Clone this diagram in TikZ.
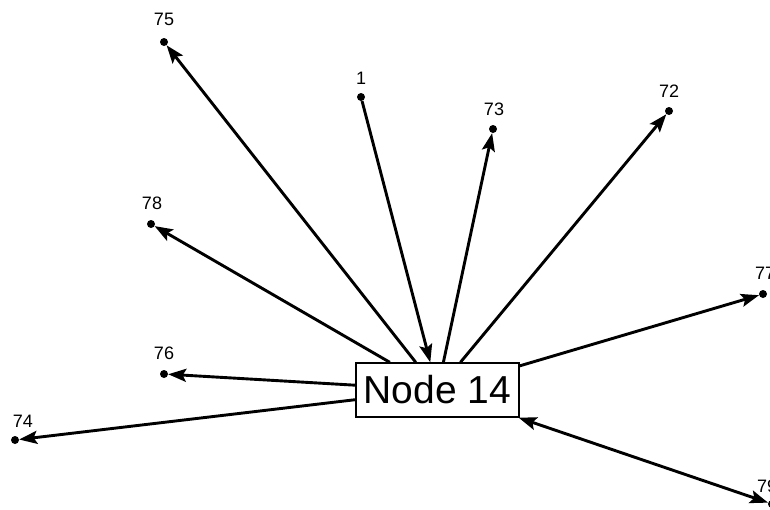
\documentclass[tikz,border=0pt]{standalone}
\usepackage{fontspec}
\setmainfont{Liberation Sans}
\usetikzlibrary{arrows.meta}
\begin{document}
\begin{tikzpicture}[x=1pt,y=-1pt,
  hub/.style={draw,line width=1.4pt,fill=white,minimum width=163pt,minimum height=54pt,
    inner sep=0pt,font=\fontsize{39}{39}\selectfont},
  vert/.style={circle,fill=black,inner sep=0pt,minimum size=8pt},
  tag/.style={inner sep=0pt,font=\fontsize{18}{18}\selectfont},
  tip/.style={Stealth[length=18pt,width=13pt,inset=3.5pt]},
  link/.style={line width=2.9pt,-{Stealth[length=18pt,width=13pt,inset=3.5pt]}},
  twoway/.style={line width=2.9pt,{Stealth[length=18pt,width=13pt,inset=3.5pt]}-{Stealth[length=18pt,width=13pt,inset=3.5pt]}}]
\clip (0,0) rectangle (770,509);
\fill[white] (0,0) rectangle (770,509);

% outer vertices
\node[vert] (v75) at (164,42) {};
\node[vert] (v1)  at (361,97) {};
\node[vert] (v73) at (493,129) {};
\node[vert] (v72) at (669,111) {};
\node[vert] (v78) at (151,224) {};
\node[vert] (v77) at (763,294) {};
\node[vert] (v76) at (164,374) {};
\node[vert] (v74) at (15,440) {};
\node[vert] (v79) at (772,504) {};

% vertex numbers
\node[tag] (t75) at (164,19) {75};
\node[tag] (t1)  at (361,78) {1};
\node[tag] (t73) at (494,109) {73};
\node[tag] (t72) at (669,91) {72};
\node[tag] (t78) at (152,203) {78};
\node[tag] (t77) at (765,273) {77};
\node[tag] (t76) at (164,353) {76};
\node[tag] (t74) at (23,421) {74};
\node[tag] (t79) at (767,486) {79};

% central node
\node[hub] (n14) at (437.5,390) {Node 14};

% connectors
\draw[link] (n14) -- (v75);
\draw[link] (v1) -- (n14);
\draw[link] (n14) -- (v73);
\draw[link] (n14) -- (v72);
\draw[link] (n14) -- (v78);
\draw[link] (n14) -- (v77);
\draw[link] (n14) -- (v76);
\draw[link] (n14) -- (v74);
\draw[twoway] (n14) -- (v79);
\end{tikzpicture}
\end{document}
